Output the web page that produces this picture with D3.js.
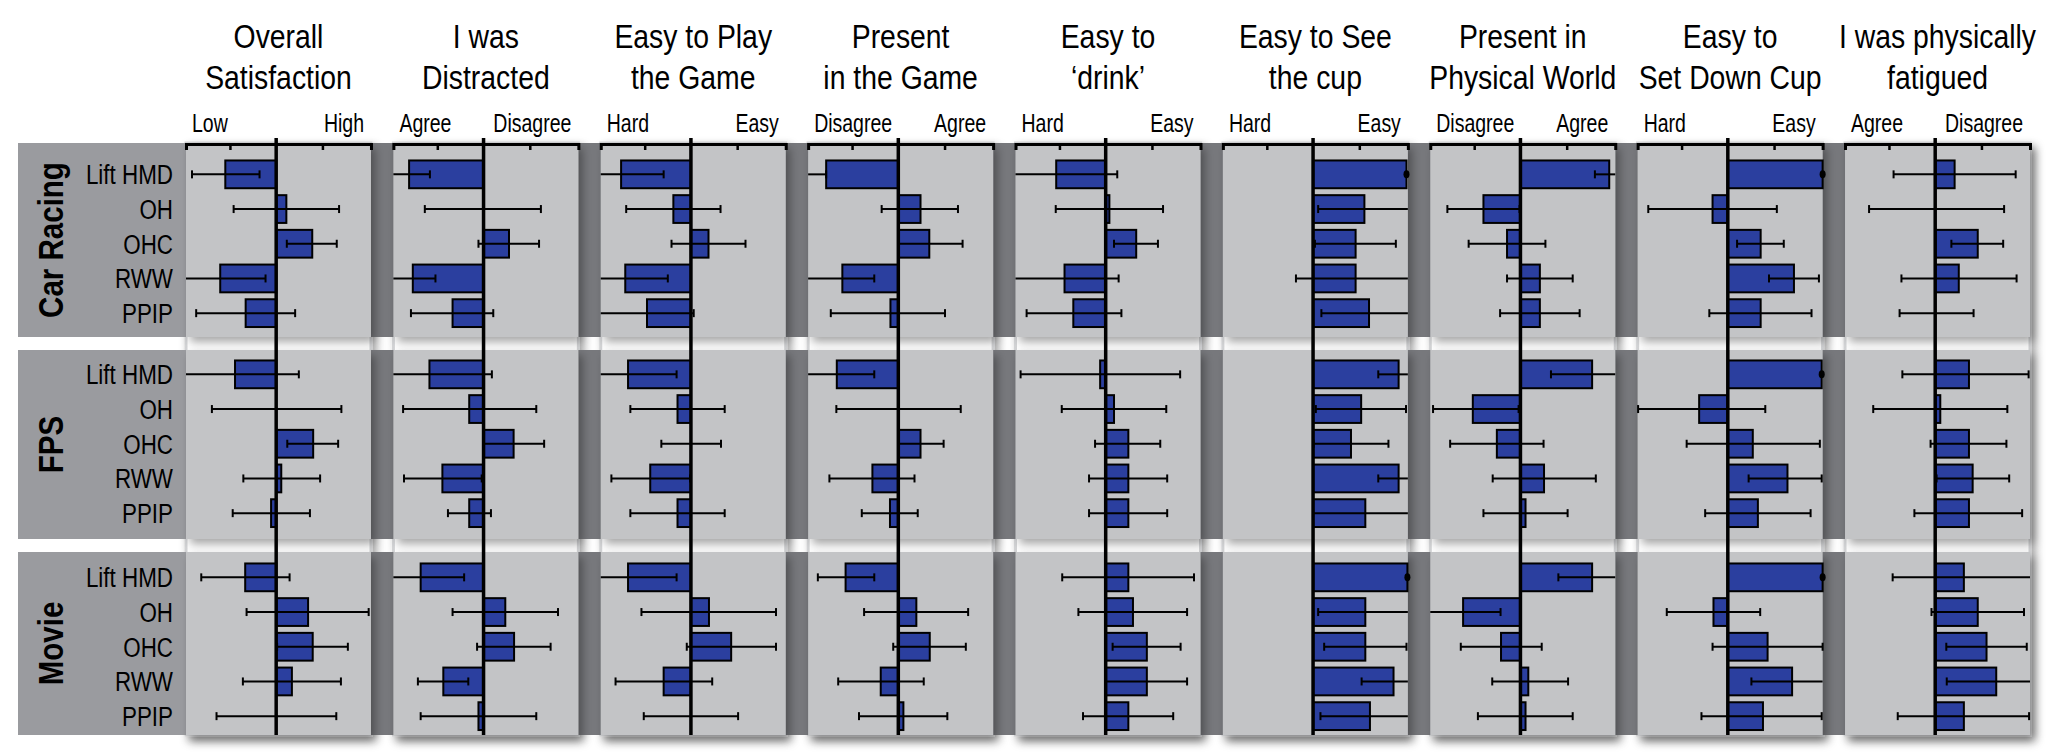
<!DOCTYPE html>
<html>
<head>
<meta charset="utf-8">
<script src="https://cdn.jsdelivr.net/npm/d3@7"></script>
<style>
  body { margin: 0; background: #fff; }
  svg text { font-family: "Liberation Sans", Arial, sans-serif; fill: #000; }
</style>
</head>
<body>
<div id="chart"></div>
<script>
// Questions (panel titles, two lines each) and the scale end labels
var questions = ["Overall|Satisfaction", "I was|Distracted", "Easy to Play|the Game", "Present|in the Game",
  "Easy to|\u2018drink\u2019", "Easy to See|the cup", "Present in|Physical World", "Easy to|Set Down Cup",
  "I was physically|fatigued"];
var lowLabels = ["Low", "Agree", "Hard", "Disagree", "Hard", "Hard", "Disagree", "Hard", "Agree"];
var highLabels = ["High", "Disagree", "Easy", "Agree", "Easy", "Easy", "Agree", "Easy", "Disagree"];

var games = ["Car Racing", "FPS", "Movie"];
var techniques = ["Lift HMD", "OH", "OHC", "RWW", "PPIP"];

// one row per question, one column per technique
var carMean = [
  [-1.10, 0.22, 0.78, -1.21, -0.66],
  [-1.61, 0.00, 0.55, -1.53, -0.67],
  [-1.51, -0.38, 0.38, -1.42, -0.95],
  [-1.56, 0.48, 0.67, -1.21, -0.17],
  [-1.07, 0.08, 0.66, -0.89, -0.70],
  [2.02, 1.11, 0.92, 0.92, 1.21],
  [1.92, -0.80, -0.29, 0.42, 0.42],
  [2.05, -0.33, 0.71, 1.43, 0.71],
  [0.42, 0.00, 0.92, 0.51, 0.00]
];
var carLo = [
  [-1.82, -0.92, 0.23, -2.3, -1.73],
  [-2.3, -1.27, -0.11, -2.3, -1.57],
  [-2.3, -1.40, -0.42, -2.3, -2.3],
  [-2.3, -0.36, 0.00, -2.3, -1.46],
  [-2.3, -1.08, 0.18, -2.3, -1.71],
  [2.02, 0.11, 0.04, -0.37, 0.18],
  [1.61, -1.58, -1.12, -0.29, -0.44],
  [2.05, -1.72, 0.20, 0.89, -0.40],
  [-0.90, -1.43, 0.35, -0.73, -0.77]
];
var carHi = [
  [-0.36, 1.36, 1.31, -0.23, 0.41],
  [-1.16, 1.24, 1.20, -1.04, 0.21],
  [-0.59, 0.64, 1.18, -0.50, 0.06],
  [-1.56, 1.29, 1.39, -0.52, 1.01],
  [0.25, 1.24, 1.13, 0.28, 0.34],
  [2.02, 2.3, 1.79, 2.3, 2.3],
  [2.3, -0.02, 0.54, 1.13, 1.28],
  [2.05, 1.06, 1.21, 1.97, 1.81],
  [1.74, 1.49, 1.47, 1.76, 0.83]
];

var fpsMean = [
  [-0.89, 0.00, 0.80, 0.11, -0.11],
  [-1.17, -0.31, 0.65, -0.89, -0.31],
  [-1.36, -0.29, 0.00, -0.88, -0.29],
  [-1.33, 0.00, 0.48, -0.56, -0.18],
  [-0.12, 0.18, 0.49, 0.49, 0.49],
  [1.85, 1.04, 0.82, 1.85, 1.13],
  [1.55, -1.03, -0.51, 0.51, 0.11],
  [2.03, -0.62, 0.54, 1.29, 0.65],
  [0.73, 0.11, 0.73, 0.81, 0.73]
];
var fpsLo = [
  [-2.3, -1.39, 0.24, -0.71, -0.94],
  [-2.3, -1.74, 0.00, -1.72, -0.77],
  [-2.3, -1.31, -0.64, -1.72, -1.31],
  [-2.3, -1.34, 0.00, -1.49, -0.79],
  [-1.84, -0.95, -0.23, -0.36, -0.36],
  [1.41, 0.06, 0.01, 1.41, 0.00],
  [0.66, -1.89, -1.52, -0.60, -0.80],
  [2.03, -1.94, -0.89, 0.45, -0.49],
  [-0.71, -1.34, -0.10, 0.03, -0.45]
];
var fpsHi = [
  [0.49, 1.41, 1.34, 0.95, 0.73],
  [0.18, 1.14, 1.31, -0.04, 0.16],
  [-0.31, 0.73, 0.65, -0.02, 0.73],
  [-0.52, 1.35, 0.98, 0.35, 0.42],
  [1.61, 1.31, 1.18, 1.33, 1.33],
  [2.3, 2.01, 1.63, 2.3, 2.3],
  [2.3, -0.04, 0.50, 1.63, 1.02],
  [2.03, 0.81, 1.99, 2.03, 1.79],
  [2.02, 1.56, 1.54, 1.60, 1.88]
];

var movieMean = [
  [-0.67, 0.69, 0.79, 0.34, 0.00],
  [-1.36, 0.47, 0.66, -0.87, -0.11],
  [-1.36, 0.39, 0.87, -0.59, 0.00],
  [-1.14, 0.39, 0.68, -0.38, 0.11],
  [0.49, 0.59, 0.89, 0.89, 0.49],
  [2.04, 1.13, 1.13, 1.74, 1.23],
  [1.55, -1.24, -0.42, 0.17, 0.11],
  [2.05, -0.31, 0.86, 1.39, 0.76],
  [0.62, 0.92, 1.11, 1.32, 0.62]
];
var movieLo = [
  [-1.62, -0.64, 0.02, -0.72, -1.29],
  [-2.3, -0.67, -0.14, -1.42, -1.36],
  [-2.3, -1.07, -0.09, -1.63, -1.02],
  [-1.74, -0.74, -0.11, -1.30, -0.85],
  [-0.94, -0.59, 0.15, 0.00, -0.49],
  [2.04, 0.11, 0.24, 1.05, 0.16],
  [0.82, -2.3, -1.29, -0.61, -0.92],
  [2.05, -1.32, -0.33, 0.51, -0.57],
  [-0.92, -0.08, 0.24, 0.25, -0.81]
];
var movieHi = [
  [0.29, 2.00, 1.55, 1.40, 1.30],
  [-0.42, 1.61, 1.45, -0.33, 1.14],
  [-0.31, 1.84, 1.84, 0.46, 1.02],
  [-0.52, 1.51, 1.46, 0.55, 1.06],
  [1.91, 1.76, 1.62, 1.76, 1.46],
  [2.04, 2.3, 2.02, 2.3, 2.3],
  [2.3, -0.43, 0.46, 1.03, 1.13],
  [2.05, 0.70, 2.05, 2.3, 2.03],
  [2.3, 1.92, 1.98, 2.3, 2.03]
];

var means = [carMean, fpsMean, movieMean];
var lows = [carLo, fpsLo, movieLo];
var highs = [carHi, fpsHi, movieHi];

// Layout
var svgWidth = 2048, svgHeight = 756;
var sectionTop = [143, 350, 552];
var sectionBottom = [337, 539, 735];
var rowPad = [14, 7, 8];

var svg = d3.select('#chart').append('svg')
  .attr('width', svgWidth)
  .attr('height', svgHeight);

// text helper, squeezed horizontally for a condensed look
function label(parent, x, y, str, size, anchor, squeeze, extra) {
  return parent.append('text')
    .attr('transform', `translate(${x}, ${y}) ${extra || ''} scale(${squeeze}, 1)`)
    .style('text-anchor', anchor || 'start')
    .style('font-size', size + 'px')
    .text(str);
}

var defs = svg.append('defs');
var shadow = defs.append('filter').attr('id', 'shadow')
  .attr('x', '-10%').attr('y', '-10%').attr('width', '130%').attr('height', '130%');
shadow.append('feDropShadow').attr('dx', 4).attr('dy', 5).attr('stdDeviation', 5)
  .attr('flood-color', '#000').attr('flood-opacity', 0.35);

// Scales
var panelX = d3.scaleBand().domain(questions).range([186, 2030]).paddingInner(0.108);
var bw = panelX.bandwidth();
var valueX = d3.scaleLinear().domain([-1.95, 2.05]).range([0, bw]);
var clip = function (v) { return Math.max(-1.95, Math.min(2.05, v)); };

// Panel outlines that show through the white gaps
svg.selectAll('.panelEdge')
  .data(questions).enter()
  .append('rect')
  .attr('x', d => panelX(d))
  .attr('y', sectionTop[0])
  .attr('width', bw)
  .attr('height', sectionBottom[2] - sectionTop[0])
  .attr('fill', '#fff')
  .attr('stroke', '#d3d4d6')
  .attr('stroke-width', 3)
  .attr('filter', 'url(#shadow)');

// Sections
games.forEach(function (game, gi) {
  var top = sectionTop[gi], bottom = sectionBottom[gi];
  var g = svg.append('g');

  g.append('rect')
    .attr('x', 18).attr('y', top)
    .attr('width', panelX(questions[8]) + bw - 18)
    .attr('height', bottom - top)
    .attr('fill', '#77787c');

  g.append('rect')
    .attr('x', 18).attr('y', top)
    .attr('width', panelX(questions[0]) - 18)
    .attr('height', bottom - top)
    .attr('fill', '#9a9b9f');

  g.selectAll('.panel')
    .data(questions).enter()
    .append('rect')
    .attr('x', d => panelX(d))
    .attr('y', top)
    .attr('width', bw)
    .attr('height', bottom - top)
    .attr('fill', '#c3c4c6')
    .attr('filter', 'url(#shadow)');

  var rowY = d3.scaleBand().domain(techniques)
    .range([top + rowPad[gi], top + rowPad[gi] + 173.5])
    .paddingInner(0.2).paddingOuter(0.1);
  var bh = rowY.bandwidth();

  // section label
  label(g, 63, (top + bottom) / 2, game, 36, 'middle', 0.82, 'rotate(-90)')
    .style('font-weight', 'bold');

  // row labels
  techniques.forEach(function (t) {
    label(g, 173, rowY(t) + bh / 2 + 10, t, 28, 'end', 0.8);
  });

  questions.forEach(function (q, qi) {
    var pg = g.append('g').attr('transform', `translate(${panelX(q)}, 0)`);
    var rows = techniques.map(function (t, ti) {
      return { t: t, v: means[gi][qi][ti], lo: lows[gi][qi][ti], hi: highs[gi][qi][ti] };
    });

    pg.selectAll('.bar')
      .data(rows.filter(d => Math.abs(d.v) > 0.01)).enter()
      .append('rect')
      .attr('x', d => Math.min(valueX(0), valueX(d.v)))
      .attr('y', d => rowY(d.t))
      .attr('width', d => Math.abs(valueX(d.v) - valueX(0)))
      .attr('height', bh)
      .attr('fill', '#2b3f9f')
      .attr('stroke', '#000')
      .attr('stroke-width', 2);

    var errRows = rows.filter(d => d.hi - d.lo > 0.02);
    pg.selectAll('.err')
      .data(errRows).enter()
      .append('line')
      .attr('x1', d => valueX(clip(d.lo)))
      .attr('x2', d => valueX(clip(d.hi)))
      .attr('y1', d => rowY(d.t) + bh / 2)
      .attr('y2', d => rowY(d.t) + bh / 2)
      .attr('stroke', '#000')
      .attr('stroke-width', 2);

    var caps = [];
    errRows.forEach(function (d) {
      if (d.lo >= -1.95) caps.push({ t: d.t, x: d.lo });
      if (d.hi <= 2.05) caps.push({ t: d.t, x: d.hi });
    });
    pg.selectAll('.cap')
      .data(caps).enter()
      .append('line')
      .attr('x1', d => valueX(d.x))
      .attr('x2', d => valueX(d.x))
      .attr('y1', d => rowY(d.t) + bh / 2 - 4)
      .attr('y2', d => rowY(d.t) + bh / 2 + 4)
      .attr('stroke', '#000')
      .attr('stroke-width', 2);

    pg.selectAll('.dot')
      .data(rows.filter(d => d.hi - d.lo <= 0.02)).enter()
      .append('ellipse')
      .attr('cx', d => valueX(clip(d.v)))
      .attr('cy', d => rowY(d.t) + bh / 2)
      .attr('rx', 3).attr('ry', 4)
      .attr('fill', '#000');
  });
});

// Zero lines
svg.selectAll('.zero')
  .data(questions).enter()
  .append('line')
  .attr('x1', d => panelX(d) + valueX(0))
  .attr('x2', d => panelX(d) + valueX(0))
  .attr('y1', 138)
  .attr('y2', sectionBottom[2])
  .attr('stroke', '#000')
  .attr('stroke-width', 3.5);

// Top axes, titles and scale labels
questions.forEach(function (q, qi) {
  var left = panelX(q);
  var axis = d3.axisTop(valueX).tickValues([-1, 1]).tickSize(-6).tickSizeOuter(-6).tickFormat('');
  var ag = svg.append('g')
    .attr('transform', `translate(${left}, ${sectionTop[0] + 1})`)
    .call(axis);
  ag.select('.domain').attr('stroke', '#000').attr('stroke-width', 3).attr('fill', 'none');
  ag.selectAll('.tick line').attr('stroke', '#000').attr('stroke-width', 2.5);

  q.split('|').forEach(function (line, li) {
    label(svg, left + bw / 2, 48 + li * 41, line, 33, 'middle', 0.86);
  });

  label(svg, left + 6, 132, lowLabels[qi], 25, 'start', 0.78);
  label(svg, left + bw - 7, 132, highLabels[qi], 25, 'end', 0.78);
});
</script>
</body>
</html>
